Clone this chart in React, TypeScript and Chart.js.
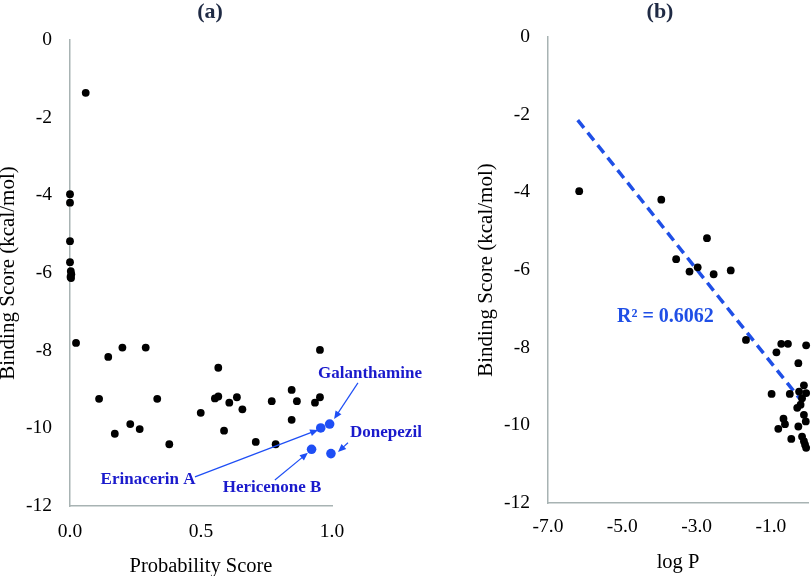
import React, { useEffect, useRef } from "react";
import { Chart, registerables } from "chart.js";
Chart.register(...registerables);

const FONT = "'Liberation Serif', 'Times New Roman', Times, serif";
const AXIS_COLOR = "#a8b3b3";
const BLUE_POINT = "#1e4ef5";
const BLUE_LABEL = "#1a1acc";
const BLUE_TREND = "#1f4fe6";

// ---------- (a) Probability Score vs Binding Score ----------
const probScore = [
  0.06, 0, 0, 0, 0, 0.003, 0.005, 0.002, 0.004, 0.023, 0.146, 0.2, 0.289, 0.566, 0.954,
  0.111, 0.171, 0.23, 0.266, 0.333, 0.379, 0.499, 0.553, 0.566, 0.588, 0.608, 0.637, 0.658,
  0.709, 0.77, 0.785, 0.846, 0.846, 0.866, 0.935, 0.954,
];
const bindingA = [
  -1.36, -3.97, -4.19, -5.18, -5.72, -5.95, -6.03, -6.1, -6.13, -7.8, -8.16, -7.92, -7.92, -8.44, -7.98,
  -9.24, -10.14, -9.89, -10.02, -9.24, -10.41, -9.6, -9.23, -9.18, -10.06, -9.34, -9.2, -9.51,
  -10.35, -9.3, -10.41, -9.01, -9.78, -9.3, -9.34, -9.2,
];
const refNames = ["Galanthamine", "Erinacerin A", "Hericenone B", "Donepezil"];
const refProb = [0.991, 0.957, 0.922, 0.996];
const refBinding = [-9.89, -9.99, -10.54, -10.65];
// annotation label centres and arrow tails/tips, in data units
const labelX = [1.145, 0.298, 0.771, 1.206];
const labelY = [-8.58, -11.31, -11.53, -10.11];
const arrowTailX = [1.099, 0.477, 0.782, 1.061];
const arrowTailY = [-8.83, -11.25, -11.33, -10.37];
const arrowTipX = [1.008, 0.947, 0.908, 1.023];
const arrowTipY = [-9.76, -10.04, -10.63, -10.61];

// ---------- (b) log P vs Binding Score ----------
const logP = [
  -6.16, -3.95, -2.72, -3.55, -3.19, -2.97, -2.54, -2.08, -1.67, -0.85, -0.72, -0.54, -0.05, -0.26,
  -0.98, -0.49, -0.11, -0.24, -0.16, -0.05, -0.2, -0.29, -0.11, -0.06, -0.66, -0.62, -0.8, -0.26,
  -0.45, -0.16, -0.11, -0.05, -0.08,
];
const bindingB = [
  -3.97, -4.19, -5.18, -5.72, -6.04, -5.93, -6.11, -6.01, -7.8, -8.12, -7.9, -7.9, -7.94, -8.4,
  -9.19, -9.19, -8.97, -9.13, -9.3, -9.17, -9.47, -9.55, -9.73, -9.9, -9.83, -9.97, -10.09, -10.03,
  -10.35, -10.29, -10.41, -10.58, -10.5,
];
const trendSlope = -1.2;
const trendIntercept = -9.58;
const trendRange = [-6.2, -0.15];
const r2Label = "R² = 0.6062";
const r2Pos = [-3.84, -7.2];
const logPTicks = [-7, -5, -3, -1];

const tickFont = { family: FONT, size: 19.5 };
const xTitleFont = { family: FONT, size: 20.5, lineHeight: 0.8 };
const yTitleFont = { family: FONT, size: 21, lineHeight: 0.8 };

function drawArrow(ctx: CanvasRenderingContext2D, x1: number, y1: number, x2: number, y2: number, color: string) {
  const ang = Math.atan2(y2 - y1, x2 - x1);
  const head = 8;
  const hw = 3.5;
  ctx.save();
  ctx.strokeStyle = color;
  ctx.fillStyle = color;
  ctx.lineWidth = 1.2;
  ctx.beginPath();
  ctx.moveTo(x1, y1);
  ctx.lineTo(x2 - Math.cos(ang) * head * 0.8, y2 - Math.sin(ang) * head * 0.8);
  ctx.stroke();
  ctx.beginPath();
  ctx.moveTo(x2, y2);
  ctx.lineTo(x2 - Math.cos(ang) * head + Math.sin(ang) * hw, y2 - Math.sin(ang) * head - Math.cos(ang) * hw);
  ctx.lineTo(x2 - Math.cos(ang) * head - Math.sin(ang) * hw, y2 - Math.sin(ang) * head + Math.cos(ang) * hw);
  ctx.closePath();
  ctx.fill();
  ctx.restore();
}

function panelTitle(text: string, cx: number, cy: number) {
  return {
    id: "panelTitle" + text,
    afterDraw(chart: any) {
      const ctx = chart.ctx;
      ctx.save();
      ctx.font = `bold 22px ${FONT}`;
      ctx.fillStyle = "#1f2a44";
      ctx.textAlign = "center";
      ctx.textBaseline = "middle";
      ctx.fillText(text, cx, cy);
      ctx.restore();
    },
  };
}

function axisCommon() {
  return {
    grid: { display: false, drawTicks: false },
    border: { display: true, color: AXIS_COLOR, width: 1.5 },
  };
}

function configA(): any {
  const annot = {
    id: "annotA",
    afterDatasetsDraw(chart: any) {
      const { ctx, scales } = chart;
      const xs = scales.x;
      const ys = scales.y;
      ctx.save();
      ctx.font = `bold 17px ${FONT}`;
      ctx.fillStyle = BLUE_LABEL;
      ctx.textAlign = "center";
      ctx.textBaseline = "middle";
      refNames.forEach((n, i) => {
        ctx.fillText(n, xs.getPixelForValue(labelX[i]), ys.getPixelForValue(labelY[i]));
        drawArrow(
          ctx,
          xs.getPixelForValue(arrowTailX[i]),
          ys.getPixelForValue(arrowTailY[i]),
          xs.getPixelForValue(arrowTipX[i]),
          ys.getPixelForValue(arrowTipY[i]),
          BLUE_POINT
        );
      });
      ctx.restore();
    },
  };
  return {
    type: "scatter",
    data: {
      datasets: [
        {
          data: probScore.map((x, i) => ({ x, y: bindingA[i] })),
          backgroundColor: "#000",
          borderColor: "#000",
          pointRadius: 3.9,
          borderWidth: 0,
          clip: false,
        },
        {
          data: refProb.map((x, i) => ({ x, y: refBinding[i] })),
          backgroundColor: BLUE_POINT,
          borderColor: BLUE_POINT,
          pointRadius: 4.8,
          borderWidth: 0,
          clip: false,
        },
      ],
    },
    options: {
      animation: false,
      responsive: false,
      events: [],
      layout: { padding: { left: 0, right: 108, top: 40, bottom: 0 } },
      plugins: { legend: { display: false }, tooltip: { enabled: false }, title: { display: false } },
      scales: {
        x: {
          type: "linear",
          min: 0,
          max: 1,
          ...axisCommon(),
          ticks: { stepSize: 0.5, padding: 14, color: "#000", font: tickFont, callback: (v: any) => Number(v).toFixed(1) },
          title: { display: true, text: "Probability Score", color: "#000", font: xTitleFont, padding: { top: 0, bottom: 1 } },
          afterFit: (s: any) => { s.height = 70; },
        },
        y: {
          type: "linear",
          min: -12,
          max: 0,
          ...axisCommon(),
          ticks: { stepSize: 2, padding: 18, color: "#000", font: tickFont },
          title: { display: true, text: "Binding Score (kcal/mol)", color: "#000", font: yTitleFont, padding: { top: 0, bottom: 0 } },
          afterFit: (s: any) => { s.width = 70; },
        },
      },
    },
    plugins: [annot, panelTitle("(a)", 210, 12)],
  };
}

function configB(): any {
  const r2 = {
    id: "r2",
    afterDatasetsDraw(chart: any) {
      const { ctx, scales } = chart;
      ctx.save();
      ctx.font = `bold 20px ${FONT}`;
      ctx.fillStyle = BLUE_TREND;
      ctx.textAlign = "center";
      ctx.textBaseline = "middle";
      ctx.fillText(r2Label, scales.x.getPixelForValue(r2Pos[0]), scales.y.getPixelForValue(r2Pos[1]));
      ctx.restore();
    },
  };
  return {
    type: "scatter",
    data: {
      datasets: [
        {
          data: logP.map((x, i) => ({ x, y: bindingB[i] })),
          backgroundColor: "#000",
          borderColor: "#000",
          pointRadius: 3.9,
          borderWidth: 0,
          clip: false,
        },
        {
          data: trendRange.map((x) => ({ x, y: trendSlope * x + trendIntercept })),
          showLine: true,
          borderColor: BLUE_TREND,
          borderWidth: 3.5,
          borderDash: [10, 6],
          pointRadius: 0,
          clip: false,
        },
      ],
    },
    options: {
      animation: false,
      responsive: false,
      events: [],
      layout: { padding: { left: 0, right: 4, top: 37, bottom: 0 } },
      plugins: { legend: { display: false }, tooltip: { enabled: false }, title: { display: false } },
      scales: {
        x: {
          type: "linear",
          min: -7,
          max: 0,
          ...axisCommon(),
          afterBuildTicks: (s: any) => { s.ticks = logPTicks.map((v) => ({ value: v })); },
          ticks: { padding: 12, color: "#000", font: tickFont, callback: (v: any) => Number(v).toFixed(1) },
          title: { display: true, text: "log P", color: "#000", font: xTitleFont, padding: { top: 0, bottom: 5 } },
          afterFit: (s: any) => { s.height = 73; },
        },
        y: {
          type: "linear",
          min: -12,
          max: 0,
          ...axisCommon(),
          ticks: { stepSize: 2, padding: 18, color: "#000", font: tickFont },
          title: { display: true, text: "Binding Score (kcal/mol)", color: "#000", font: yTitleFont, padding: { top: 68, bottom: 0 } },
          afterFit: (s: any) => { s.width = 138; },
        },
      },
    },
    plugins: [r2, panelTitle("(b)", 250, 12)],
  };
}

export default function App() {
  const refA = useRef<HTMLCanvasElement>(null);
  const refB = useRef<HTMLCanvasElement>(null);
  useEffect(() => {
    const a = new Chart(refA.current as HTMLCanvasElement, configA());
    const b = new Chart(refB.current as HTMLCanvasElement, configB());
    return () => {
      a.destroy();
      b.destroy();
    };
  }, []);
  return (
    <div style={{ position: "absolute", left: 0, top: 0, width: 812, height: 576, background: "#fff", overflow: "hidden" }}>
      <canvas ref={refA} width={440} height={576} style={{ position: "absolute", left: 0, top: 0, width: 440, height: 576 }} />
      <canvas ref={refB} width={402} height={576} style={{ position: "absolute", left: 410, top: 0, width: 402, height: 576 }} />
    </div>
  );
}
